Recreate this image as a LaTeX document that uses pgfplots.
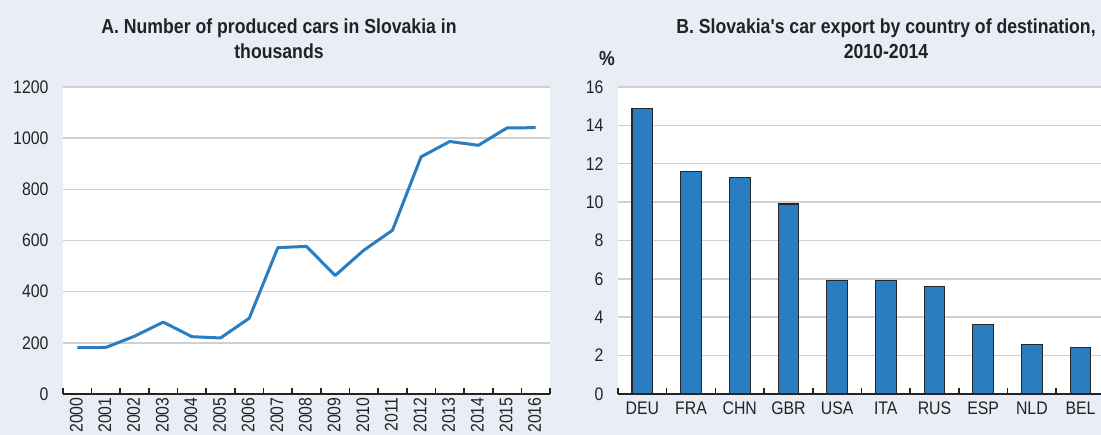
\documentclass[border=0pt]{standalone}
\usepackage{pgfplots}
\pgfplotsset{compat=1.18}
\usepackage{fontspec}
\setmainfont{Liberation Sans}[FakeStretch=0.87, Ligatures=TeXOff]
\definecolor{bg}{RGB}{233,237,246}
\definecolor{oblue}{RGB}{41,125,192}
\definecolor{gridc}{RGB}{208,208,208}
\definecolor{txt}{RGB}{35,35,35}
\begin{document}
\begin{tikzpicture}[x=1pt,y=1pt]
\fill[bg] (0,0) rectangle (1101,435);
\useasboundingbox (0,0) rectangle (1101,435);
\pgfplotsset{
  common/.style={
    scale only axis, clip=false,
    axis background/.style={fill=white},
    axis x line*=bottom, axis y line*=left,
    y axis line style={draw=none},
    x axis line style={-, line width=2pt, color=txt},
    major tick length=0pt,
    minor tick length=6pt,
    tick align=inside,
    minor tick style={line width=1.6pt, color=txt},
    ymajorgrids, grid style={gridc, line width=1.5pt},
    tick label style={font=\fontsize{18.2}{20}\selectfont, text=txt},
    /pgf/number format/assume math mode=true,
    yticklabel style={xshift=-11pt},
    ymin=0,
  }
}
\begin{axis}[common,
  at={(63pt,41pt)}, anchor=south west,
  width=487pt, height=307pt,
  xmin=1999.5, xmax=2016.5, ymax=1200,
  xtick={2000,...,2016},
  minor xtick={1999.5,2000.5,...,2016.5},
  ytick={0,200,...,1200},
  /pgf/number format/set thousands separator={},
  xticklabel style={rotate=90, anchor=east, xshift=0pt, yshift=1pt},
  xticklabel={\pgfmathprintnumber[fixed,precision=0,set thousands separator={}]{\tick}},
]
\addplot[oblue, line width=3pt, line join=round] coordinates {
(2000,181) (2001,182) (2002,226) (2003,281) (2004,224) (2005,219)
(2006,296) (2007,572) (2008,577) (2009,463) (2010,562) (2011,640)
(2012,927) (2013,987) (2014,972) (2015,1040) (2016,1041)};
\end{axis}
\begin{axis}[common,
  at={(618pt,41pt)}, anchor=south west,
  width=483pt, height=307pt,
  xmin=-0.5, xmax=9.42, ymax=16,
  xtick={0,...,9},
  xticklabels={DEU,FRA,CHN,GBR,USA,ITA,RUS,ESP,NLD,BEL},
  minor xtick={-0.5,0.5,...,8.5},
  ytick={0,2,...,16},
  xticklabel style={yshift=-4pt},
]
\addplot[ybar, bar width=20.7pt, fill=oblue, draw=black!85, line width=1.1pt] coordinates {
(0,14.9) (1,11.6) (2,11.3) (3,9.9) (4,5.9) (5,5.9) (6,5.6) (7,3.6) (8,2.6) (9,2.4)};
\end{axis}
\node[font=\bfseries\fontsize{20.3}{25}\selectfont, text=txt, align=center] at (279,396) {A. Number of produced cars in Slovakia in\\thousands};
\node[font=\bfseries\fontsize{20.3}{25}\selectfont, text=txt, align=center] at (886,396) {B. Slovakia's car export by country of destination,\\2010-2014};
\node[font=\bfseries\fontsize{20.3}{20}\selectfont, text=txt] at (607,376) {\%};
\end{tikzpicture}
\end{document}
